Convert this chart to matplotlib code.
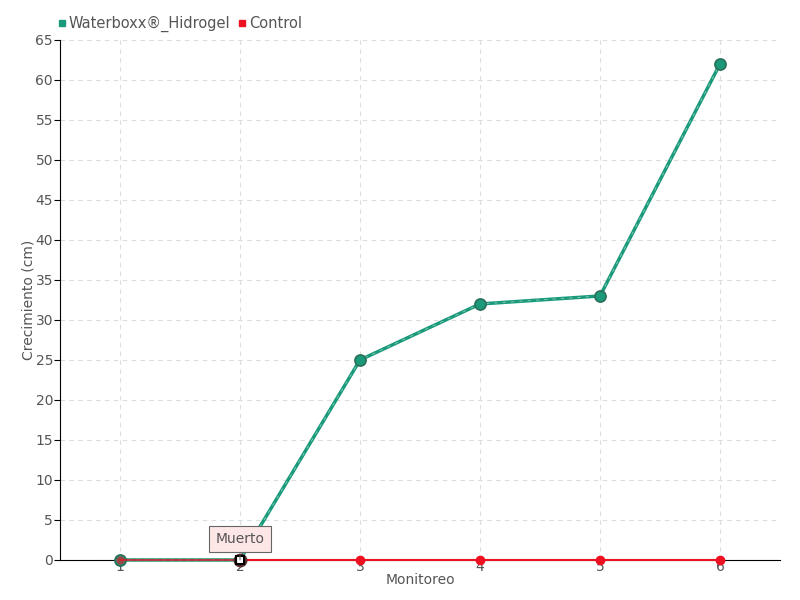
import matplotlib
matplotlib.use("Agg")
import matplotlib.pyplot as plt
from matplotlib.lines import Line2D

monitoreo = [1, 2, 3, 4, 5, 6]
waterboxx = [0, 0, 25, 32, 33, 62]
control = [0, 0, 0, 0, 0, 0]
y_ticks = list(range(0, 70, 5))

green = "#1a9a7a"
green_edge = "#2a6f5a"
red = "#ee1122"
txt = "#555555"

fig = plt.figure(figsize=(8, 6), dpi=100)
ax = fig.add_axes([0.075, 0.0667, 0.9, 0.8667])

ax.plot(monitoreo, control, color=red, lw=1.5, zorder=3, clip_on=False)
ax.plot(monitoreo[2:], control[2:], 'o', color=red, ms=6, zorder=4, mec=red, clip_on=False)
ax.plot(monitoreo, waterboxx, color=green, lw=2.5, zorder=5, clip_on=False)
ax.plot(monitoreo, waterboxx, color="white", lw=0.6, ls=(0, (4, 6)), alpha=0.5, zorder=5, clip_on=False)
ax.plot(monitoreo[:1] + monitoreo[2:], waterboxx[:1] + waterboxx[2:], 'o', color=green,
        mec=green_edge, mew=1.2, ms=8, zorder=6, clip_on=False)
ax.plot(monitoreo[:2], control[:2], color=red, lw=1.2, zorder=6, alpha=0.85, clip_on=False)
ax.plot([monitoreo[0]], [control[0]], 'o', color=red, ms=5, alpha=0.5, zorder=7, clip_on=False)
ax.plot([monitoreo[1]], [waterboxx[1]], 'o', color="#5a3030", ms=9, zorder=7, clip_on=False)
ax.plot([monitoreo[1]], [waterboxx[1]], 's', color="white", mec="black", mew=1.5, ms=5.5, zorder=8, clip_on=False)

ax.annotate("Muerto", xy=(monitoreo[1], waterboxx[1]), xytext=(0, 15), textcoords="offset points",
            ha="center", va="center", fontsize=10, color=txt,
            bbox=dict(boxstyle="square,pad=0.45", fc="#fde6e6", ec="#666666", lw=0.8),
            arrowprops=dict(arrowstyle="-", color="#666666", lw=0.8, shrinkB=4), zorder=9,
            annotation_clip=False)

ax.set_xlim(0.5, 6.5)
ax.set_ylim(0, 65)
ax.set_xticks(monitoreo)
ax.set_xticklabels([str(m) for m in monitoreo])
ax.set_yticks(y_ticks)
ax.grid(True, color="#dddddd", ls=(0, (4, 4)), lw=0.8)
ax.set_axisbelow(True)
for s in ["top", "right"]:
    ax.spines[s].set_visible(False)
ax.spines["left"].set_color("black")
ax.spines["bottom"].set_color("black")
ax.spines["bottom"].set_zorder(2)
ax.tick_params(axis="both", colors="black", labelcolor=txt, labelsize=10, length=4)
ax.tick_params(axis="y", pad=1)
ax.tick_params(axis="x", pad=-2, direction="inout")
ax.set_xlabel("Monitoreo", color=txt, fontsize=10, labelpad=-1)
ax.set_ylabel("Crecimiento (cm)", color=txt, fontsize=10, labelpad=0)

handles = [Line2D([], [], ls="", marker="s", color=green, ms=5),
           Line2D([], [], ls="", marker="s", color=red, ms=5)]
fig.legend(handles, ["Waterboxx®_Hidrogel", "Control"], loc="upper left",
           bbox_to_anchor=(0.055, 0.995), ncol=2, frameon=False, fontsize=10.5,
           handlelength=0.6, handletextpad=0.2, columnspacing=0.5, labelcolor=txt)

fig.savefig("out.png", dpi=100)
